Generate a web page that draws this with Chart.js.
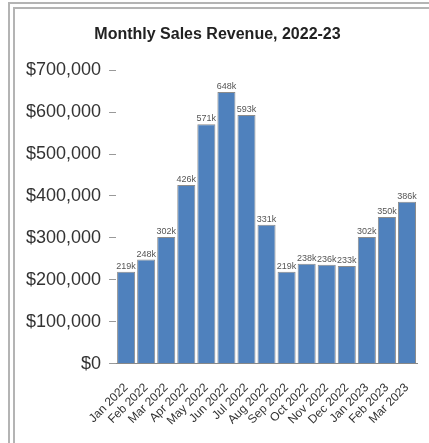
<!DOCTYPE html>
<html>
<head>
<meta charset="utf-8">
<script src="https://cdn.jsdelivr.net/npm/chart.js@4"></script>
<style>
    html, body { margin: 0; padding: 0; background: #fff; overflow: hidden; }
    .frame {
        position: absolute; left: 8px; top: 2px; width: 600px; height: 600px;
        border: 7px double #b4b4b4; box-sizing: border-box;
    }
    .wrap { position: absolute; left: 0; top: 0; width: 429px; height: 443px; }
</style>
</head>
<body>
<div class="frame"></div>
<div class="wrap"><canvas id="chart" width="429" height="443"></canvas></div>
<script>
// Chart data
const chartTitle = 'Monthly Sales Revenue, 2022-23';
const months = ['Jan 2022', 'Feb 2022', 'Mar 2022', 'Apr 2022', 'May 2022', 'Jun 2022', 'Jul 2022', 'Aug 2022',
    'Sep 2022', 'Oct 2022', 'Nov 2022', 'Dec 2022', 'Jan 2023', 'Feb 2023', 'Mar 2023'];
const sales = [219000, 248000, 302000, 426000, 571000, 648000, 593000, 331000,
    219000, 238000, 236000, 233000, 302000, 350000, 386000];
const yTicks = [0, 100000, 200000, 300000, 400000, 500000, 600000, 700000];

// Value labels above each bar
const barLabels = {
    id: 'barLabels',
    afterDatasetsDraw(chart) {
        const ctx = chart.ctx;
        const meta = chart.getDatasetMeta(0);
        ctx.save();
        ctx.font = '9px "Liberation Sans", Arial, sans-serif';
        ctx.fillStyle = '#555';
        ctx.textAlign = 'center';
        ctx.textBaseline = 'bottom';
        meta.data.forEach((bar, i) => {
            ctx.fillText(Math.round(sales[i] / 1000) + 'k', bar.x, bar.y - 1);
        });
        ctx.restore();
    }
};

document.addEventListener('DOMContentLoaded', function() {
    const ctx = document.getElementById('chart').getContext('2d');
    new Chart(ctx, {
        type: 'bar',
        data: {
            labels: months,
            datasets: [{
                label: 'Sales',
                data: sales,
                backgroundColor: '#4f81bd',
                borderColor: '#8c8c8c',
                borderWidth: 1,
                barPercentage: 0.9,
                categoryPercentage: 1.0
            }]
        },
        options: {
            responsive: false,
            animation: false,
            layout: { padding: { left: 18, right: 12, top: 15, bottom: 6 } },
            plugins: {
                legend: { display: false },
                tooltip: { enabled: false },
                title: {
                    display: true,
                    text: chartTitle,
                    color: '#222',
                    font: { family: '"Liberation Sans", Arial, sans-serif', size: 16, weight: 'bold' },
                    padding: { top: 10, bottom: 26 }
                }
            },
            scales: {
                x: {
                    grid: { display: false },
                    border: { display: true, color: '#888' },
                    ticks: {
                        color: '#333',
                        autoSkip: false,
                        minRotation: 45,
                        maxRotation: 45,
                        padding: 9,
                        font: { family: '"Liberation Sans", Arial, sans-serif', size: 12 }
                    }
                },
                y: {
                    min: 0,
                    max: 700000,
                    afterBuildTicks: axis => { axis.ticks = yTicks.map(v => ({ value: v })); },
                    grid: { display: true, drawOnChartArea: false, drawTicks: true, tickLength: 7, color: '#999' },
                    border: { display: false },
                    ticks: {
                        color: '#333',
                        padding: 8,
                        font: { family: '"Liberation Sans", Arial, sans-serif', size: 18 },
                        callback: v => '$' + v.toLocaleString('en-US')
                    }
                }
            }
        },
        plugins: [barLabels]
    });
});
</script>
</body>
</html>
